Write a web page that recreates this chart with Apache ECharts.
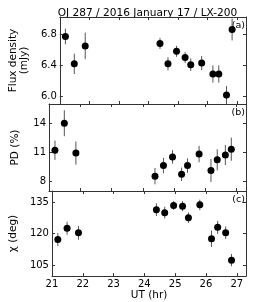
<!DOCTYPE html>
<html><head><meta charset="utf-8">
<script src="https://cdn.jsdelivr.net/npm/echarts@6/dist/echarts.min.js"></script>
<style>html,body{margin:0;padding:0;background:#fff}#c{width:274px;height:302px}</style>
</head><body><div id="c"></div>
<script>
const titleText = 'OJ 287 / 2016 January 17 / LX-200';
const utHours = [21.19, 21.49, 21.86, 24.39, 24.66, 24.95, 25.24, 25.43, 25.80, 26.18, 26.38, 26.64, 26.83];
const flux = [6.77, 6.42, 6.65, 6.68, 6.42, 6.58, 6.50, 6.41, 6.43, 6.29, 6.29, 6.02, 6.86];
const fluxErr = [0.10, 0.13, 0.17, 0.07, 0.085, 0.07, 0.07, 0.08, 0.09, 0.11, 0.11, 0.115, 0.14];
const pd = [11.2, 14.0, 10.9, 8.5, 9.6, 10.5, 8.7, 9.6, 10.8, 9.1, 10.2, 10.7, 11.3];
const pdErr = [1.0, 1.35, 1.2, 0.85, 0.8, 0.7, 0.7, 0.75, 0.85, 1.2, 1.1, 1.05, 1.2];
const chi = [117.2, 122.6, 120.4, 131.4, 130.0, 133.4, 133.1, 127.6, 133.7, 117.6, 123.0, 120.4, 107.4];
const chiErr = [3.1, 3.1, 3.3, 3.0, 2.8, 2.1, 2.4, 2.5, 2.5, 3.9, 3.1, 3.0, 2.9];
const xTicks = [21, 22, 23, 24, 25, 26, 27];
const fluxTicks = [6.0, 6.4, 6.8];
const pdTicks = [8, 11, 14];
const chiTicks = [105, 120, 135];
const panelNames = ['Flux density\n(mJy)', 'PD (%)', 'χ (deg)'];
const panelTags = ['(a)', '(b)', '(c)'];

const FONT = 'DejaVu Sans';
const AX = '#333';
const panels = [
  {vals: flux, errs: fluxErr, ticks: fluxTicks, min: 5.906, max: 7.02, fmt: v => v.toFixed(1), top: 17, height: 87, gap: 22},
  {vals: pd, errs: pdErr, ticks: pdTicks, min: 6.96, max: 16.0, fmt: v => String(v), top: 104, height: 87, gap: 28.5},
  {vals: chi, errs: chiErr, ticks: chiTicks, min: 99.8, max: 140.3, fmt: v => String(v), top: 191, height: 86, gap: 32}
];

const grid = [], xAxis = [], yAxis = [], series = [], graphic = [];
panels.forEach((p, i) => {
  grid.push({left: 49, right: 28, top: p.top, height: p.height});
  const last = i === panels.length - 1;
  xAxis.push({
    type: 'value', gridIndex: i, min: 21, max: 27.3, position: 'bottom',
    axisLine: {show: true, lineStyle: {color: AX, width: 1}},
    axisTick: {show: true, inside: true, length: 3, customValues: xTicks, lineStyle: {color: AX}},
    axisLabel: {show: last, customValues: xTicks, margin: 3, fontFamily: FONT, fontSize: 10, color: '#000'},
    splitLine: {show: false},
    name: last ? 'UT (hr)' : '', nameLocation: 'middle', nameGap: 12,
    nameTextStyle: {fontFamily: FONT, fontSize: 10.5, color: '#000'}
  });
  xAxis.push({
    type: 'value', gridIndex: i, min: 21, max: 27.3, position: 'top',
    axisLine: {show: true, lineStyle: {color: AX, width: 1}},
    axisTick: {show: true, inside: true, length: 3, customValues: xTicks, lineStyle: {color: AX}},
    axisLabel: {show: false}, splitLine: {show: false}
  });
  yAxis.push({
    type: 'value', gridIndex: i, min: p.min, max: p.max, position: 'left',
    axisLine: {show: true, lineStyle: {color: AX, width: 1}},
    axisTick: {show: true, inside: true, length: 3, customValues: p.ticks, lineStyle: {color: AX}},
    axisLabel: {show: true, customValues: p.ticks, formatter: p.fmt, margin: 3, fontFamily: FONT, fontSize: 10, color: '#000'},
    splitLine: {show: false},
    name: panelNames[i], nameLocation: 'middle', nameRotate: 90, nameGap: p.gap,
    nameTextStyle: {fontFamily: FONT, fontSize: 10.5, color: '#000', lineHeight: 11}
  });
  yAxis.push({
    type: 'value', gridIndex: i, min: p.min, max: p.max, position: 'right',
    axisLine: {show: true, lineStyle: {color: AX, width: 1}},
    axisTick: {show: true, inside: true, length: 3, customValues: p.ticks, lineStyle: {color: AX}},
    axisLabel: {show: false}, splitLine: {show: false}
  });
  const data = utHours.map((x, k) => [x, p.vals[k], p.errs[k]]);
  series.push({
    type: 'custom', xAxisIndex: 2 * i, yAxisIndex: 2 * i, coordinateSystem: 'cartesian2d',
    data: data, encode: {x: 0, y: 1}, silent: true, z: 2,
    renderItem: (params, api) => {
      const x = api.value(0), y = api.value(1), e = api.value(2);
      const a = api.coord([x, y - e]), b = api.coord([x, y + e]);
      return {type: 'line', shape: {x1: a[0], y1: a[1], x2: b[0], y2: b[1]}, style: {stroke: '#555', lineWidth: 1}};
    }
  });
  series.push({
    type: 'scatter', xAxisIndex: 2 * i, yAxisIndex: 2 * i,
    data: data.map(d => [d[0], d[1]]), symbol: 'circle', symbolSize: 7,
    itemStyle: {color: '#000', opacity: 1}, silent: true, z: 3
  });
  graphic.push({
    type: 'text', right: 29, top: p.top + 4,
    style: {text: panelTags[i], font: '9.5px "DejaVu Sans"', fill: '#000'}
  });
});
graphic.push({
  type: 'text', x: 147.5, y: 13.5,
  style: {text: titleText, font: '10.6px "DejaVu Sans"', fill: '#000', textAlign: 'center', textVerticalAlign: 'middle'}
});

const chart = echarts.init(document.getElementById('c'), null, {renderer: 'canvas'});
chart.setOption({animation: false, backgroundColor: '#fff', grid, xAxis, yAxis, series, graphic});
</script></body></html>
